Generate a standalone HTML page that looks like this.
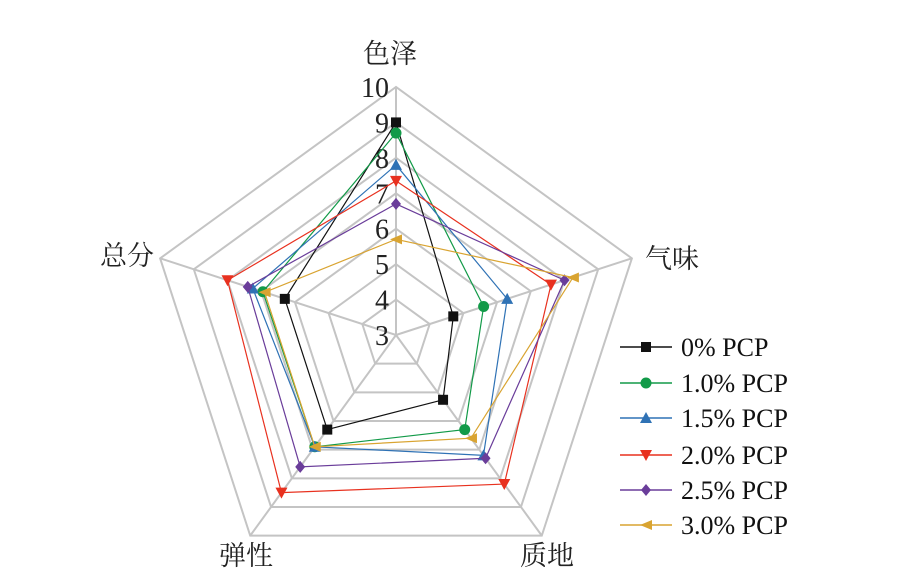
<!DOCTYPE html>
<html><head><meta charset="utf-8"><style>
html,body{margin:0;padding:0;background:#fff;}
svg{display:block;font-family:"Liberation Serif","Noto Serif CJK SC",serif;}
</style></head><body>
<svg id="s" width="899" height="585" viewBox="0 0 899 585" xmlns="http://www.w3.org/2000/svg"></svg>
<script>
var s=document.getElementById('s'),h='';
var cx=396,cy=335,u=35.43;
function pt(i,v){var a=(-90+72*i)*Math.PI/180,r=(v-3)*u;return [cx+r*Math.cos(a),cy+r*Math.sin(a)];}
for(var k=4;k<=10;k++){var p=[];for(var i=0;i<5;i++)p.push(pt(i,k).join(','));h+='<polygon points="'+p.join(' ')+'" fill="none" stroke="#c4c4c4" stroke-width="2"/>';}
for(var i=0;i<5;i++){var q=pt(i,10);h+='<line x1="'+cx+'" y1="'+cy+'" x2="'+q[0]+'" y2="'+q[1]+'" stroke="#c4c4c4" stroke-width="2"/>';}
for(var k=3;k<=10;k++){h+='<text x="389" y="'+(cy-(k-3)*u+10)+'" font-size="28" text-anchor="end" fill="#222">'+k+'</text>';}
var labs=[['色泽',390,63],['气味',672,268],['质地',547,565],['弹性',246,565],['总分',127,265]];
labs.forEach(function(l){h+='<text x="'+l[1]+'" y="'+l[2]+'" font-size="27" text-anchor="middle" fill="#222">'+l[0]+'</text>';});
var ser=[
['#111','sq',[9.0,4.7,5.26,6.3,6.3],'0% PCP'],
['#129a48','ci',[8.7,5.6,6.3,6.9,6.95],'1.0% PCP'],
['#2f72b5','tu',[7.8,6.3,7.2,6.9,7.25],'1.5% PCP'],
['#e8311f','td',[7.35,7.6,8.2,8.5,8.0],'2.0% PCP'],
['#6a3d9a','di',[6.7,8.0,7.3,7.6,7.4],'2.5% PCP'],
['#d9a431','tl',[5.7,8.25,6.6,6.9,6.9],'3.0% PCP']];
function mk(t,x,y,c){
 if(t=='sq')return '<rect x="'+(x-5)+'" y="'+(y-5)+'" width="10" height="10" fill="'+c+'"/>';
 if(t=='ci')return '<circle cx="'+x+'" cy="'+y+'" r="5.5" fill="'+c+'"/>';
 if(t=='tu')return '<polygon points="'+x+','+(y-6)+' '+(x+6)+','+(y+5)+' '+(x-6)+','+(y+5)+'" fill="'+c+'"/>';
 if(t=='td')return '<polygon points="'+x+','+(y+6)+' '+(x+6)+','+(y-5)+' '+(x-6)+','+(y-5)+'" fill="'+c+'"/>';
 if(t=='di')return '<polygon points="'+x+','+(y-6)+' '+(x+5)+','+y+' '+x+','+(y+6)+' '+(x-5)+','+y+'" fill="'+c+'"/>';
 return '<polygon points="'+(x-6)+','+y+' '+(x+6)+','+(y-5)+' '+(x+6)+','+(y+5)+'" fill="'+c+'"/>';
}
var ly=[347,383,418,455,490,525];
ser.forEach(function(sr,j){
 var p=[];for(var i=0;i<5;i++)p.push(pt(i,sr[2][i]));
 h+='<polygon points="'+p.map(function(a){return a.join(',')}).join(' ')+'" fill="none" stroke="'+sr[0]+'" stroke-width="1.2"/>';
 p.forEach(function(a){h+=mk(sr[1],a[0],a[1],sr[0]);});
 h+='<line x1="620" y1="'+ly[j]+'" x2="672" y2="'+ly[j]+'" stroke="'+sr[0]+'" stroke-width="1.5"/>'+mk(sr[1],646,ly[j],sr[0]);
 h+='<text x="681" y="'+(ly[j]+9)+'" font-size="26" fill="#111">'+sr[3]+'</text>';
});
s.innerHTML=h;
</script>
</body></html>
